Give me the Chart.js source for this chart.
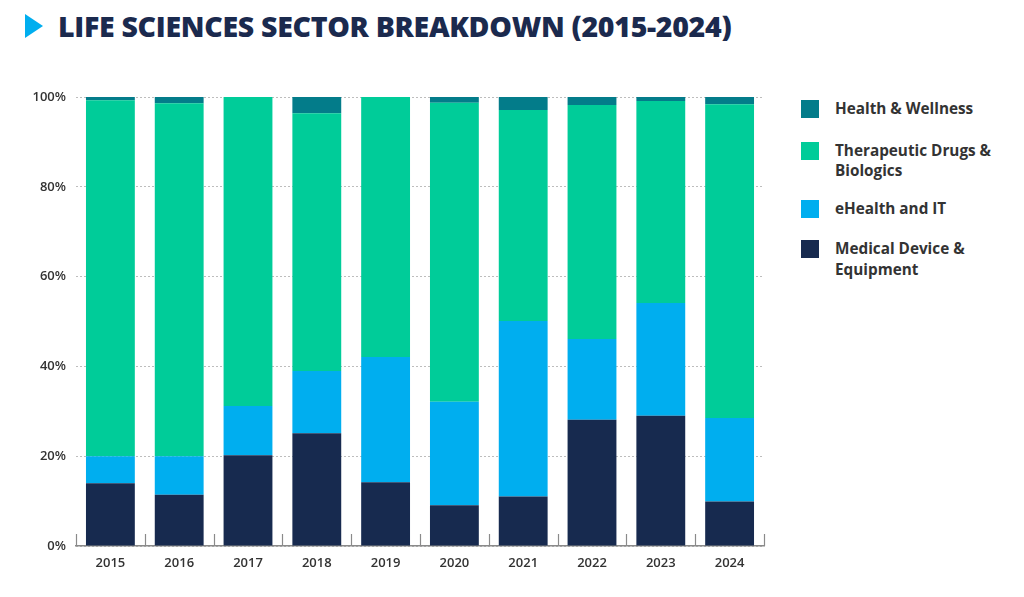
<!DOCTYPE html>
<html>
<head>
<meta charset="utf-8">
<script src="https://cdn.jsdelivr.net/npm/chart.js@4.4.1/dist/chart.umd.min.js"></script>
<style>
  html,body{margin:0;padding:0;background:#fff;}
  body{width:1024px;height:597px;position:relative;overflow:hidden;font-family:"Open Sans",Lato,sans-serif;}
  #title{position:absolute;left:25px;top:10px;height:32px;display:flex;align-items:center;}
  #tri{width:0;height:0;border-top:12px solid transparent;border-bottom:12px solid transparent;border-left:18px solid #00AEEF;margin-right:15px;}
  #title span{font-family:"Open Sans",sans-serif;font-weight:800;font-size:28.5px;color:#1B2A4E;letter-spacing:-0.3px;}
  #wrap{position:absolute;left:0;top:0;width:780px;height:597px;}
  #legend{position:absolute;left:801px;top:98px;}
  .li{display:flex;align-items:flex-start;margin-bottom:0;}
  .sw{width:18px;height:18px;flex:none;margin-right:16px;margin-top:2px;}
  .lt{font-family:"Open Sans",sans-serif;font-weight:700;font-size:15.3px;color:#333;line-height:20.5px;}
</style>
</head>
<body>
<div id="title"><div id="tri"></div><span>LIFE SCIENCES SECTOR BREAKDOWN (2015-2024)</span></div>
<div id="wrap"><canvas id="c" width="780" height="597"></canvas></div>
<div id="legend"></div>
<script>
const years = ["2015","2016","2017","2018","2019","2020","2021","2022","2023","2024"];
const medicalDevice = [14.0, 11.4, 20.2, 25.1, 14.2, 9.1, 11.0, 28.1, 29.0, 9.9];
const eHealthIT     = [6.0, 8.6, 11.0, 13.9, 27.9, 23.0, 39.1, 18.0, 25.1, 18.6];
const therapeutic   = [79.3, 78.6, 68.8, 57.4, 57.9, 66.6, 47.0, 52.1, 45.0, 69.9];
const healthWellness= [0.7, 1.4, 0.0, 3.6, 0.0, 1.3, 2.9, 1.8, 0.9, 1.6];
const yTicks = [0, 20, 40, 60, 80, 100];

const seriesNames = ["Medical Device & Equipment","eHealth and IT","Therapeutic Drugs & Biologics","Health & Wellness"];
const colors = ["#172A4F","#00AEEF","#00CC99","#037C8A"];
const seriesData = [medicalDevice, eHealthIT, therapeutic, healthWellness];

// HTML legend (reverse order, with wrapping as in reference)
const legendLines = [
  ["Health & Wellness"],
  ["Therapeutic Drugs &","Biologics"],
  ["eHealth and IT"],
  ["Medical Device &","Equipment"]
];
const legendColors = [colors[3],colors[2],colors[1],colors[0]];
const legendMargins = [21, 17, 20, 0];
const lg = document.getElementById('legend');
legendLines.forEach((lines,i)=>{
  const d=document.createElement('div'); d.className='li'; d.style.marginBottom=legendMargins[i]+'px';
  const s=document.createElement('div'); s.className='sw'; s.style.background=legendColors[i];
  const t=document.createElement('div'); t.className='lt'; t.innerHTML=lines.map(l=>l.replace(/&/g,'&amp;')).join('<br>');
  d.appendChild(s); d.appendChild(t); lg.appendChild(d);
});

const boundaryTicks = {
  id:'boundaryTicks',
  afterDatasetsDraw(chart){
    const x = chart.scales.x, ctx = chart.ctx, bottom = chart.chartArea.bottom;
    ctx.save(); ctx.strokeStyle='#8a8a8a'; ctx.lineWidth=1.2;
    for(let i=0;i<=years.length;i++){
      const px = Math.round(x.getPixelForValue(i-0.5))+0.5;
      ctx.beginPath(); ctx.moveTo(px,bottom); ctx.lineTo(px,bottom-12); ctx.stroke();
    }
    ctx.restore();
  }
};

new Chart(document.getElementById('c'),{
  type:'bar',
  data:{
    labels:years,
    datasets: seriesData.map((d,i)=>({label:seriesNames[i],data:d,backgroundColor:colors[i],borderWidth:0,barPercentage:0.71,categoryPercentage:1.0}))
  },
  options:{
    responsive:false,animation:false,
    layout:{padding:{top:97,left:0,right:16,bottom:21}},
    plugins:{legend:{display:false},tooltip:{enabled:false}},
    scales:{
      x:{stacked:true,
        grid:{display:false,drawTicks:false},
        border:{display:true,color:'#8a8a8a',width:1.5},
        ticks:{color:'#333',font:{family:'Open Sans',size:13,weight:'600'},padding:9,maxRotation:0},
        afterFit(s){s.height=30;}
      },
      y:{stacked:true,min:0,max:100,
        afterBuildTicks(s){s.ticks=yTicks.map(v=>({value:v}));},
        grid:{color:'#bdbdbd',lineWidth:1,drawTicks:false},
        border:{display:false,dash:[2,2]},
        ticks:{color:'#333',font:{family:'Open Sans',size:13,weight:'600'},padding:10,callback:v=>v+'%'},
        afterFit(s){s.width=76;}
      }
    }
  },
  plugins:[boundaryTicks]
});
</script>
</body>
</html>
